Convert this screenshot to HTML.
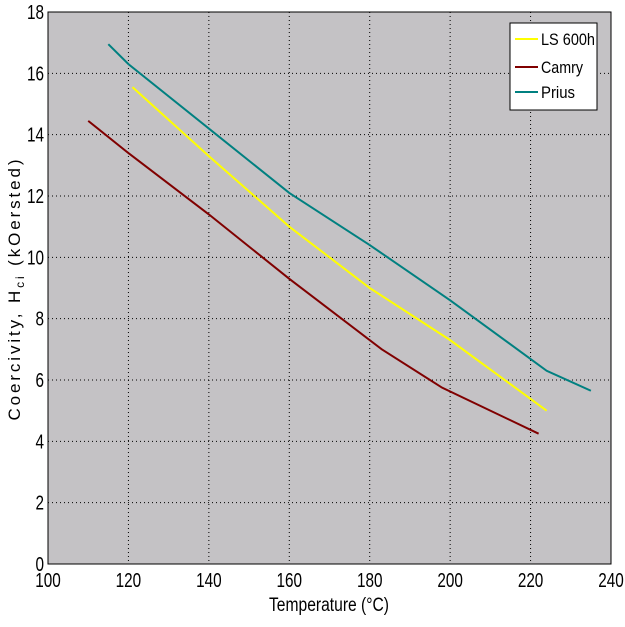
<!DOCTYPE html>
<html><head><meta charset="utf-8"><style>
body{margin:0;background:#fff;width:625px;height:622px;overflow:hidden}
text{font-family:"Liberation Sans",sans-serif}
</style></head><body>
<svg id="chart" width="625" height="622" xmlns="http://www.w3.org/2000/svg">
<rect x="48" y="12" width="563" height="552" fill="#c4c2c5" stroke="#000" stroke-width="1"/>
<g id="grid"></g><g id="ticks"></g><g id="series"></g>
<text x="329" y="611" font-size="19" text-anchor="middle" textLength="120" lengthAdjust="spacingAndGlyphs">Temperature (°C)</text>
<text transform="translate(20,290) rotate(-90)" font-size="17" text-anchor="middle" textLength="261" lengthAdjust="spacing">Coercivity, H<tspan font-size="12" dy="4">ci</tspan><tspan dy="-4"> (kOersted)</tspan></text>
<g>
<rect x="510" y="23" width="87" height="87" fill="#fff" stroke="#000"/>
<line x1="515" y1="39" x2="538" y2="39" stroke="#ffff00" stroke-width="2"/>
<text x="541" y="45" font-size="17" textLength="54" lengthAdjust="spacingAndGlyphs">LS 600h</text>
<line x1="515" y1="67" x2="538" y2="67" stroke="#800000" stroke-width="2"/>
<text x="541" y="73" font-size="17" textLength="42" lengthAdjust="spacingAndGlyphs">Camry</text>
<line x1="515" y1="92" x2="538" y2="92" stroke="#008080" stroke-width="2"/>
<text x="541" y="98" font-size="17" textLength="34" lengthAdjust="spacingAndGlyphs">Prius</text>
</g>
</svg>
<script>
const xTicks=[100,120,140,160,180,200,220,240];
const yTicks=[0,2,4,6,8,10,12,14,16,18];
const lsX=[121,140,160,170,180,200,224];
const lsY=[15.55,13.3,11.0,10.0,9.0,7.3,5.0];
const camryX=[110,120,140,160,183,198,222];
const camryY=[14.45,13.4,11.4,9.3,7.0,5.75,4.25];
const priusX=[115,120,140,160,180,200,224,235];
const priusY=[16.95,16.3,14.2,12.1,10.4,8.6,6.3,5.65];
const X=v=>48+(v-100)/140*563, Y=v=>564-v/18*552;
const NS="http://www.w3.org/2000/svg";
function mk(t,a,p){const e=document.createElementNS(NS,t);for(const k in a)e.setAttribute(k,a[k]);document.getElementById(p).appendChild(e);return e;}
xTicks.forEach(v=>{
 if(v>100&&v<240){const g=mk('line',{x1:X(v),x2:X(v),y1:12,y2:564,stroke:'#000','stroke-dasharray':'1,3','stroke-width':1},'grid');
 
 }
 const t=mk('text',{x:X(v),y:587,'font-size':20,'text-anchor':'middle',textLength:String(v).length*8.5,lengthAdjust:'spacingAndGlyphs'},'ticks');t.textContent=v;
 
 
});
yTicks.forEach(v=>{
 if(v>0&&v<18){const g=mk('line',{x1:48,x2:611,y1:Y(v),y2:Y(v),stroke:'#000','stroke-dasharray':'1,3','stroke-width':1},'grid');
 
 }
 const t=mk('text',{x:44,y:Y(v)+7,'font-size':20,'text-anchor':'end',textLength:String(v).length*8.5,lengthAdjust:'spacingAndGlyphs'},'ticks');t.textContent=v;
 
 
});
[[lsX,lsY,'#ffff00','ls600h-line'],[camryX,camryY,'#800000','camry-line'],[priusX,priusY,'#008080','prius-line']].forEach(s=>{
 const p=mk('polyline',{points:s[0].map((x,i)=>X(x)+','+Y(s[1][i])).join(' '),fill:'none',stroke:s[2],'stroke-width':2},'series');
 
 
});
</script>
</body></html>
